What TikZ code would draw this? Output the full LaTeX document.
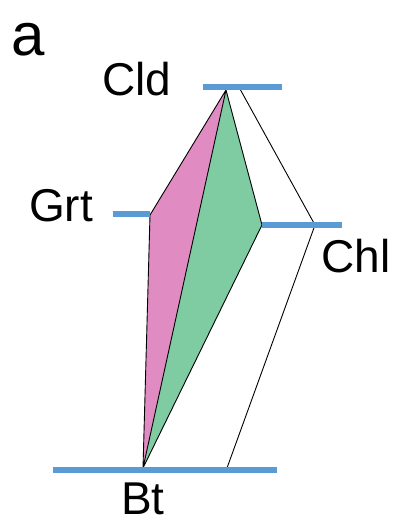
\documentclass[tikz,border=0pt]{standalone}
\usepackage{fontspec}
\setmainfont{Liberation Sans}
\usepackage{tikz}
\definecolor{phase}{HTML}{5B9BD5}
\definecolor{grtpink}{HTML}{E08CC2}
\definecolor{chlgreen}{HTML}{7FCBA2}
\tikzset{
  bar/.style={draw=phase, line width=6pt},
  tie/.style={draw=black, line width=0.9pt, line join=round},
  lbl/.style={font=\fontsize{46}{54}\selectfont, anchor=base, inner sep=0pt},
}

\begin{document}
\begin{tikzpicture}[x=1pt, y=-1pt]
        \useasboundingbox (0,0) rectangle (395,523);
        % phase points
        \coordinate (cld) at (226,90);
        \coordinate (cldw) at (240,89);
        \coordinate (grt) at (150,215);
        \coordinate (chl) at (262,225);
        \coordinate (chlw) at (315,225);
        \coordinate (bt) at (143,468);
        \coordinate (btw) at (227,468);
        % tie-line fields
        \fill[grtpink] (cld) -- (grt) -- (bt) -- cycle;
        \fill[chlgreen] (cld) -- (chl) -- (bt) -- cycle;
        \draw[tie] (cld) -- (grt) -- (bt) -- (cld) -- (chl) -- (bt);
        \draw[tie] (cldw) -- (chlw) -- (btw);
        % level bars
        \draw[bar] (203,87) -- (282,87);
        \draw[bar] (113,214) -- (150,214);
        \draw[bar] (262,225) -- (342,225);
        \draw[bar] (53,470) -- (277,470);
        % labels
        \node[lbl, font=\fontsize{60}{70}\selectfont] (tag) at (28,55) {a};
        \node[lbl] (cldlbl) at (137,95) {Cld};
        \node[lbl] (grtlbl) at (61,221) {Grt};
        \node[lbl] (chllbl) at (356,272) {Chl};
        \node[lbl] (btlbl) at (143,514) {Bt};
      \end{tikzpicture}
\end{document}
